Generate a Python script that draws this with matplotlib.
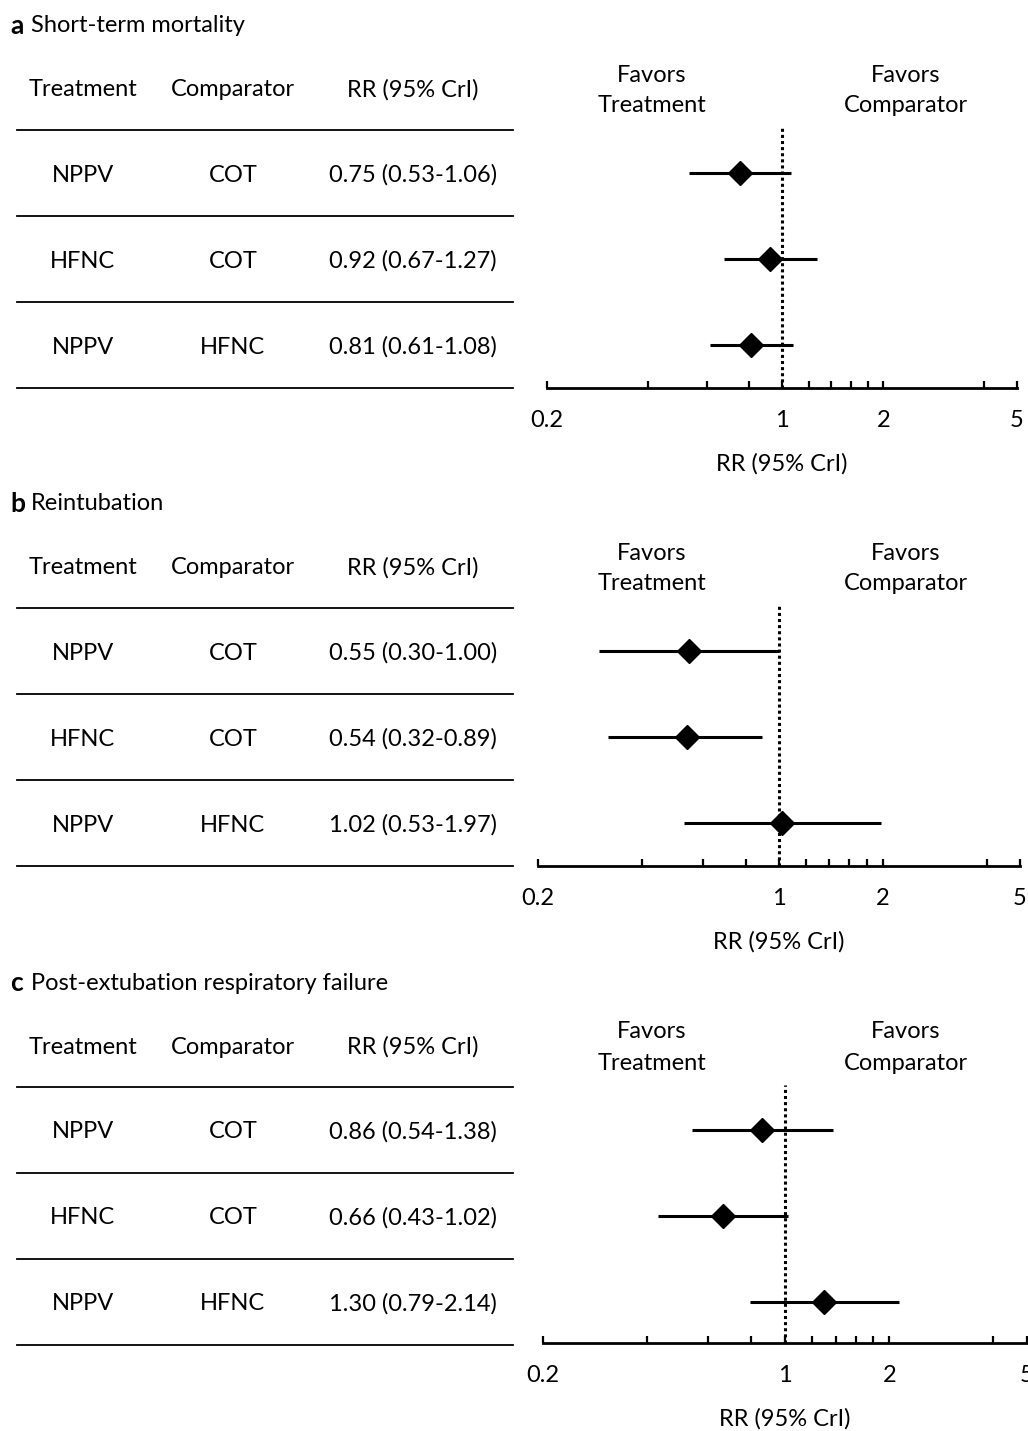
import matplotlib.pyplot as plt
from matplotlib.ticker import FixedLocator, FixedFormatter, NullFormatter

plt.rcParams['font.family'] = ['Lato', 'DejaVu Sans']

letters = ['a', 'b', 'c']
outcomes = ['Short-term mortality', 'Reintubation', 'Post-extubation respiratory failure']
treatments = ['NPPV', 'HFNC', 'NPPV']
comparators = ['COT', 'COT', 'HFNC']

mortality_rr = [0.75, 0.92, 0.81]
mortality_low = [0.53, 0.67, 0.61]
mortality_high = [1.06, 1.27, 1.08]

reintubation_rr = [0.55, 0.54, 1.02]
reintubation_low = [0.30, 0.32, 0.53]
reintubation_high = [1.00, 0.89, 1.97]

failure_rr = [0.86, 0.66, 1.30]
failure_low = [0.54, 0.43, 0.79]
failure_high = [1.38, 1.02, 2.14]

major_ticks = [0.2, 1, 2, 5]
major_labels = ['0.2', '1', '2', '5']
minor_ticks = [0.4, 0.6, 0.8, 1.2, 1.4, 1.6, 1.8, 4]

panels = [
    (mortality_rr, mortality_low, mortality_high),
    (reintubation_rr, reintubation_low, reintubation_high),
    (failure_rr, failure_low, failure_high),
]

W, H = 1028, 1431
fig = plt.figure(figsize=(W / 100, H / 100), dpi=100)
bg = fig.add_axes([0, 0, 1, 1])
bg.set_xlim(0, W)
bg.set_ylim(H, 0)
bg.axis('off')

# pixel layout of each panel
panel_top = [0, 478, 957]
axis_x = [(547, 1017), (538, 1020), (543, 1027)]
axis_y = [388, 866, 1343]
col_x = [83, 233, 413]
fs = 17
step = 86

for k, (rr, low, high) in enumerate(panels):
    top = panel_top[k]
    bg.text(10, top + 26, letters[k], fontsize=19, fontweight='bold', va='center', ha='left')
    bg.text(31, top + 26, outcomes[k], fontsize=fs, va='center', ha='left')

    for x, lab in zip(col_x, ['Treatment', 'Comparator', 'RR (95% CrI)']):
        bg.text(x, top + 90, lab, fontsize=fs, ha='center', va='center')

    first_row = top + 173
    for i in range(4):
        y = top + 130 + i * step
        bg.plot([17, 513], [y, y], color='black', lw=1.3)
    for i in range(3):
        y = first_row + i * step + 2
        bg.text(col_x[0], y, treatments[i], fontsize=fs, ha='center', va='center')
        bg.text(col_x[1], y, comparators[i], fontsize=fs, ha='center', va='center')
        bg.text(col_x[2], y, f'{rr[i]:.2f} ({low[i]:.2f}-{high[i]:.2f})',
                fontsize=fs, ha='center', va='center')

    bg.text(652, top + 75, 'Favors', fontsize=fs, ha='center', va='center')
    bg.text(652, top + 106, 'Treatment', fontsize=fs, ha='center', va='center')
    bg.text(906, top + 75, 'Favors', fontsize=fs, ha='center', va='center')
    bg.text(906, top + 106, 'Comparator', fontsize=fs, ha='center', va='center')

    # forest plot axes
    x0, x1 = axis_x[k]
    ay = axis_y[k]
    ax_top = first_row - 45
    ax = fig.add_axes([x0 / W, 1 - ay / H, (x1 - x0) / W, (ay - ax_top) / H])
    ax.set_xscale('log')
    ax.set_xlim(0.2, 5)
    ax.set_ylim(2 + (ay - (first_row + 2 * step)) / step, -(first_row - ax_top) / step)
    ax.patch.set_alpha(0)
    for s in ['top', 'left', 'right']:
        ax.spines[s].set_visible(False)
    ax.spines['bottom'].set_linewidth(2)
    ax.set_yticks([])
    ax.xaxis.set_major_locator(FixedLocator(major_ticks))
    ax.xaxis.set_major_formatter(FixedFormatter(major_labels))
    ax.xaxis.set_minor_locator(FixedLocator(minor_ticks))
    ax.xaxis.set_minor_formatter(NullFormatter())
    ax.tick_params(axis='x', which='both', direction='in', length=5, width=1.6, pad=15.5,
                   labelsize=fs)

    ax.axvline(1, color='black', ls=(0, (1, 1)), lw=2.2)
    rows = list(range(3))
    for i in rows:
        ax.plot([low[i], high[i]], [i, i], color='black', lw=2.2, solid_capstyle='butt')
    ax.plot(rr, rows, ls='none', marker='D', ms=12, color='black')

    bg.text((x0 + x1) / 2, ay + 76, 'RR (95% CrI)', fontsize=fs, ha='center', va='center')

fig.savefig('out.png', dpi=100)
